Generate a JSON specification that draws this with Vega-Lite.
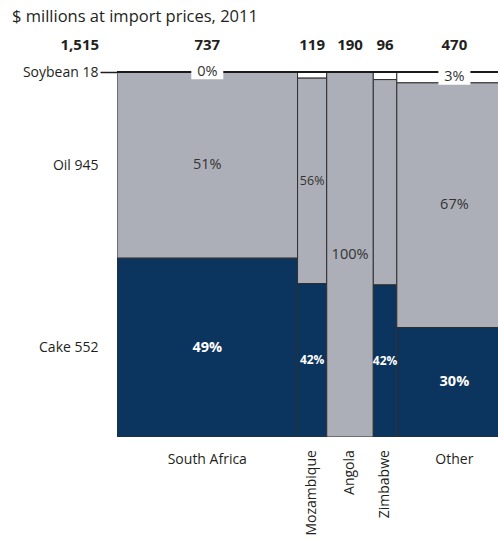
{
  "$schema": "https://vega.github.io/schema/vega-lite/v6.json",
  "width": 381,
  "height": 365,
  "autosize": "none",
  "padding": {"left": 117, "top": 72, "right": 0, "bottom": 103},
  "background": "white",
  "config": {"view": {"stroke": null}, "font": "Open Sans"},
  "title": {"text": "$ millions at import prices, 2011", "anchor": "start", "frame": "group", "dx": -105, "dy": -8, "fontSize": 16.5, "fontWeight": "normal", "color": "#231f20", "font": "Open Sans"},
  "datasets": {
    "seg": [
      {"country": "South Africa", "c": 1, "product": "Soybean", "p": 3, "value": 0, "label": "0%", "total": 737},
      {"country": "South Africa", "c": 1, "product": "Oil", "p": 2, "value": 376, "label": "51%", "total": 737},
      {"country": "South Africa", "c": 1, "product": "Cake", "p": 1, "value": 361, "label": "49%", "total": 737},
      {"country": "Mozambique", "c": 2, "product": "Soybean", "p": 3, "value": 2, "label": "", "total": 119},
      {"country": "Mozambique", "c": 2, "product": "Oil", "p": 2, "value": 67, "label": "56%", "total": 119},
      {"country": "Mozambique", "c": 2, "product": "Cake", "p": 1, "value": 50, "label": "42%", "total": 119},
      {"country": "Angola", "c": 3, "product": "Oil", "p": 2, "value": 190, "label": "100%", "total": 190},
      {"country": "Zimbabwe", "c": 4, "product": "Soybean", "p": 3, "value": 2, "label": "", "total": 96},
      {"country": "Zimbabwe", "c": 4, "product": "Oil", "p": 2, "value": 54, "label": "", "total": 96},
      {"country": "Zimbabwe", "c": 4, "product": "Cake", "p": 1, "value": 40, "label": "42%", "total": 96},
      {"country": "Other", "c": 5, "product": "Soybean", "p": 3, "value": 14, "label": "3%", "total": 470},
      {"country": "Other", "c": 5, "product": "Oil", "p": 2, "value": 315, "label": "67%", "total": 470},
      {"country": "Other", "c": 5, "product": "Cake", "p": 1, "value": 141, "label": "30%", "total": 470}
    ]
  },
  "data": {"name": "seg"},
  "transform": [
    {"stack": "value", "groupby": [], "sort": [{"field": "c"}, {"field": "p"}], "as": ["v1", "v2"]},
    {"joinaggregate": [{"op": "min", "field": "v1", "as": "x"}, {"op": "max", "field": "v2", "as": "x2"}], "groupby": ["country"]},
    {"stack": "value", "groupby": ["country"], "sort": [{"field": "p"}], "offset": "normalize", "as": ["y", "y2"]}
  ],
  "layer": [
    {
      "mark": {"type": "rect", "stroke": "#2e2e2e", "strokeWidth": 1, "clip": true},
      "encoding": {
        "x": {"field": "x", "type": "quantitative", "scale": {"domain": [0, 1555], "nice": false, "zero": false}, "axis": null},
        "x2": {"field": "x2"},
        "y": {"field": "y", "type": "quantitative", "scale": {"domain": [0, 1], "nice": false},
          "axis": {"values": [0.245, 0.745, 1], "labelExpr": "datum.value == 1 ? 'Soybean 18' : (datum.value > 0.5 ? 'Oil 945' : 'Cake 552')", "domain": false, "grid": false, "title": null, "tickSize": 17, "tickColor": "#231f20", "tickWidth": 1.5, "tickOpacity": {"condition": {"test": "datum.value == 1", "value": 1}, "value": 0}, "labelPadding": 2, "labelFontSize": 14, "labelColor": "#231f20", "labelFont": "Open Sans"}},
        "y2": {"field": "y2"},
        "color": {"field": "product", "type": "nominal", "scale": {"domain": ["Cake", "Oil", "Soybean"], "range": ["#0b345e", "#adafb8", "#ffffff"]}, "legend": null}
      }
    },
    {
      "transform": [{"aggregate": [{"op": "count", "as": "n"}]}],
      "mark": {"type": "rule", "color": "#1a1a1a", "strokeWidth": 2},
      "encoding": {"y": {"datum": 1, "type": "quantitative"}}
    },
    {
      "transform": [
        {"filter": "datum.label != ''"},
        {"fold": ["x", "x2"], "as": ["kx", "xv"]},
        {"fold": ["y", "y2"], "as": ["ky", "yv"]},
        {"aggregate": [{"op": "mean", "field": "xv", "as": "xc"}, {"op": "mean", "field": "yv", "as": "yc"}], "groupby": ["country", "product", "label"]}
      ],
      "encoding": {
        "x": {"field": "xc", "type": "quantitative"},
        "y": {"field": "yc", "type": "quantitative"},
        "text": {"field": "label"}
      },
      "layer": [
        {"transform": [{"filter": "datum.product == 'Soybean'"}], "mark": {"type": "point", "shape": "M-1,-0.45H1V0.45H-1Z", "filled": true, "color": "white", "opacity": 1, "size": 1024, "strokeWidth": 0}},
        {"transform": [{"filter": "datum.product != 'Cake' && datum.country != 'Mozambique' && datum.country != 'Zimbabwe'"}],
          "mark": {"type": "text", "color": "#333333", "fontSize": 14.5, "font": "Open Sans"}},
        {"transform": [{"filter": "datum.product != 'Cake' && (datum.country == 'Mozambique' || datum.country == 'Zimbabwe')"}],
          "mark": {"type": "text", "color": "#333333", "fontSize": 12.5, "font": "Open Sans"}},
        {"transform": [{"filter": "datum.product == 'Cake' && datum.country != 'Mozambique' && datum.country != 'Zimbabwe'"}],
          "mark": {"type": "text", "color": "white", "fontWeight": "bold", "fontSize": 14.5, "font": "Open Sans"}},
        {"transform": [{"filter": "datum.product == 'Cake' && (datum.country == 'Mozambique' || datum.country == 'Zimbabwe')"}],
          "mark": {"type": "text", "color": "white", "fontWeight": "bold", "fontSize": 12, "font": "Open Sans"}}
      ]
    },
    {
      "transform": [
        {"aggregate": [{"op": "min", "field": "x", "as": "xa"}, {"op": "max", "field": "x2", "as": "xb"}], "groupby": ["country", "total"]},
        {"fold": ["xa", "xb"], "as": ["k", "xv"]},
        {"aggregate": [{"op": "mean", "field": "xv", "as": "xc"}], "groupby": ["country", "total"]}
      ],
      "encoding": {"x": {"field": "xc", "type": "quantitative"}},
      "layer": [
        {"mark": {"type": "text", "fontWeight": "bold", "fontSize": 15, "color": "#231f20", "font": "Open Sans"},
          "encoding": {"y": {"datum": 1.074, "type": "quantitative"}, "text": {"field": "total", "format": ","}}},
        {"transform": [{"filter": "datum.country == 'South Africa' || datum.country == 'Other'"}],
          "mark": {"type": "text", "fontSize": 14, "color": "#231f20", "font": "Open Sans"},
          "encoding": {"y": {"datum": -0.063, "type": "quantitative"}, "text": {"field": "country"}}},
        {"transform": [{"filter": "datum.country != 'South Africa' && datum.country != 'Other'"}],
          "mark": {"type": "text", "fontSize": 14, "color": "#231f20", "angle": 270, "align": "right", "baseline": "middle", "font": "Open Sans"},
          "encoding": {"y": {"datum": -0.036, "type": "quantitative"}, "text": {"field": "country"}}}
      ]
    },
    {
      "transform": [{"aggregate": [{"op": "count", "as": "n"}]}],
      "mark": {"type": "text", "fontWeight": "bold", "fontSize": 15, "color": "#231f20", "align": "right", "font": "Open Sans"},
      "encoding": {"x": {"datum": -73, "type": "quantitative"}, "y": {"datum": 1.074, "type": "quantitative"}, "text": {"value": "1,515"}}
    }
  ]
}
